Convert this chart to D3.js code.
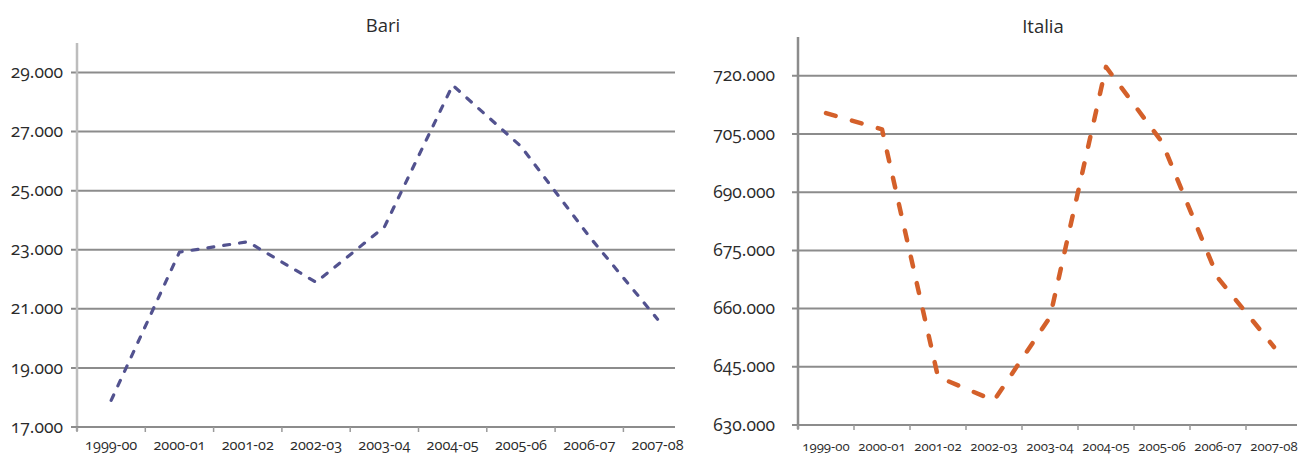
<!DOCTYPE html>
<html>
<head>
<meta charset="utf-8">
<script src="https://cdn.jsdelivr.net/npm/d3@7"></script>
<style>
  html, body { margin: 0; padding: 0; background: #ffffff; }
  svg { display: block; }
  .num { font-family: "Open Sans", "Noto Sans", sans-serif; font-variant-numeric: oldstyle-nums; fill: #2b2b2b; }
  .title { font-family: "Open Sans", "Noto Sans", sans-serif; fill: #2b2b2b; }
</style>
</head>
<body>
<svg id="chart" width="1299" height="454"></svg>
<script>
// School years shown on both panels
const categories = ["1999-00", "2000-01", "2001-02", "2002-03", "2003-04", "2004-05", "2005-06", "2006-07", "2007-08"];

// Bari
const bariValues = [17900, 22920, 23270, 21900, 23770, 28570, 26500, 23450, 20650];
const bariTicks = [17000, 19000, 21000, 23000, 25000, 27000, 29000];
const bariDomain = [17000, 30000];

// Italia
const italiaValues = [710400, 706200, 642400, 636300, 657800, 722300, 702900, 667900, 650100];
const italiaTicks = [630000, 645000, 660000, 675000, 690000, 705000, 720000];
const italiaDomain = [630000, 730000];

const locale = d3.formatLocale({ decimal: ",", thousands: ".", grouping: [3], currency: ["€", ""] });
const fmt = locale.format(",d");

const svg = d3.select("#chart");

function panel(opts) {
  const g = svg.append("g");
  const x = d3.scaleBand().domain(categories).range([opts.x0, opts.x0 + opts.step * categories.length]).padding(0);
  const y = d3.scaleLinear().domain(opts.domain).range([opts.yBottom, opts.yTop]);

  // horizontal gridlines
  g.selectAll("line.grid").data(opts.ticks.filter(t => t !== opts.domain[0]))
    .join("line")
    .attr("x1", opts.x0 - 6).attr("x2", opts.xEnd)
    .attr("y1", d => y(d)).attr("y2", d => y(d))
    .attr("stroke", "#8c8c8c").attr("stroke-width", 2);

  // y axis line
  g.append("line")
    .attr("x1", opts.x0).attr("x2", opts.x0)
    .attr("y1", opts.yTop).attr("y2", opts.yBottom + 4)
    .attr("stroke", opts.yAxisColor).attr("stroke-width", 2.5);

  // x axis line
  g.append("line")
    .attr("x1", opts.x0 - 6).attr("x2", opts.xEnd)
    .attr("y1", y(opts.domain[0])).attr("y2", y(opts.domain[0]))
    .attr("stroke", "#8c8c8c").attr("stroke-width", 2);

  // x tick marks at category boundaries
  const edges = categories.map(c => x(c)).concat([opts.x0 + opts.step * categories.length]).filter(v => v <= opts.xEnd + 1);
  g.selectAll("line.xt").data(edges).join("line")
    .attr("x1", d => d).attr("x2", d => d)
    .attr("y1", y(opts.domain[0])).attr("y2", y(opts.domain[0]) + 5)
    .attr("stroke", "#9a9a9a").attr("stroke-width", 1.5);

  // y tick labels
  g.selectAll("text.yl").data(opts.ticks).join("text")
    .attr("class", "num")
    .attr("x", opts.labelRight)
    .attr("y", d => y(d))
    .attr("dy", "0.32em")
    .attr("text-anchor", "end")
    .style("font-size", opts.yFont + "px")
    .text(d => fmt(d));

  // x category labels
  g.selectAll("text.xl").data(categories).join("text")
    .attr("class", "num")
    .attr("x", d => x(d) + x.bandwidth() / 2)
    .attr("y", opts.xLabelY)
    .attr("text-anchor", "middle")
    .style("font-size", opts.xFont + "px")
    .text(d => d);

  // title
  g.append("text")
    .attr("class", "title")
    .attr("x", opts.titleX).attr("y", opts.titleY)
    .attr("text-anchor", "middle")
    .style("font-size", "18.5px")
    .text(opts.title);

  // series line
  const line = d3.line()
    .x((d, i) => x(categories[i]) + x.bandwidth() / 2)
    .y(d => y(d));
  g.append("path")
    .datum(opts.values)
    .attr("d", line)
    .attr("fill", "none")
    .attr("stroke", opts.color)
    .attr("stroke-width", opts.lineWidth)
    .attr("stroke-dasharray", opts.dash)
    .attr("stroke-linecap", "round")
    .attr("stroke-linejoin", "round");
}

panel({
  title: "Bari", titleX: 383, titleY: 32,
  values: bariValues, ticks: bariTicks, domain: bariDomain,
  x0: 77, step: 68.3, xEnd: 675, yTop: 43, yBottom: 427,
  labelRight: 63, xLabelY: 450, yFont: 17.5, xFont: 14.5,
  yAxisColor: "#bdbdbd",
  color: "#52528f", lineWidth: 3.2, dash: "6 10"
});

panel({
  title: "Italia", titleX: 1043, titleY: 33,
  values: italiaValues, ticks: italiaTicks, domain: italiaDomain,
  x0: 798, step: 56, xEnd: 1297, yTop: 37, yBottom: 425,
  labelRight: 775, xLabelY: 451, yFont: 17.5, xFont: 13.2,
  yAxisColor: "#8c8c8c",
  color: "#d4602a", lineWidth: 4.5, dash: "10 17"
});
</script>
</body>
</html>
